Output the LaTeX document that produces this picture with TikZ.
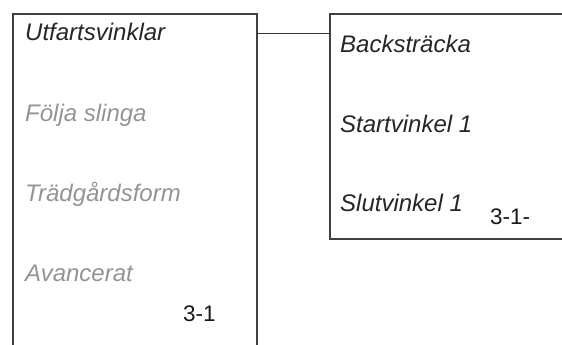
\documentclass[tikz,border=0pt]{standalone}
\usepackage{fontspec}
\setmainfont{Liberation Sans}
\usetikzlibrary{positioning}
\tikzset{
    frame/.style={draw=black!75, line width=1.1pt},
    link/.style={draw=black!80, line width=1.0pt},
    menuitem/.style={
        anchor=base west, inner sep=0pt,
        font=\itshape\fontsize{24}{28}\selectfont, text=black!85,
    },
    menuoff/.style={menuitem, text=black!42},
    pagenr/.style={
        anchor=base west, inner sep=0pt,
        font=\fontsize{22.5}{26}\selectfont, text=black!90,
    },
}

\begin{document}
\begin{tikzpicture}[x=1pt, y=1pt]

    \useasboundingbox (0,0) rectangle (562,345);

    % left menu frame, open at the bottom
    \coordinate (lbl) at (13,0);
    \coordinate (ltl) at (13,331);
    \coordinate (ltr) at (257,331);
    \coordinate (lbr) at (257,0);
    \draw[frame] (lbl) -- (ltl) -- (ltr) -- (lbr);

    % right submenu frame, open on the right
    \coordinate (rtr) at (562,331);
    \coordinate (rtl) at (330,331);
    \coordinate (rbl) at (330,106);
    \coordinate (rbr) at (562,106);
    \draw[frame] (rtr) -- (rtl) -- (rbl) -- (rbr);

    \node[menuitem] (utf) at (25,304) {Utfartsvinklar};
    \node[menuoff] (slinga) at (25,223) {Följa slinga};
    \node[menuoff] (tradg) at (25,143) {Trädgårdsform};
    \node[menuoff] (avanc) at (25,63) {Avancerat};
    \node[pagenr] (lnr) at (183,23) {3-1};

    \node[menuitem] (back) at (340,292) {Backsträcka};
    \node[menuitem] (start) at (340,212) {Startvinkel 1};
    \node[menuitem] (slut) at (340,133) {Slutvinkel 1};
    \node[pagenr] (rnr) at (490,120) {3-1-};

    \coordinate (jl) at (257,311);
    \coordinate (jr) at (330,311);
    \draw[link] (jl) -- (jr);

\end{tikzpicture}
\end{document}
